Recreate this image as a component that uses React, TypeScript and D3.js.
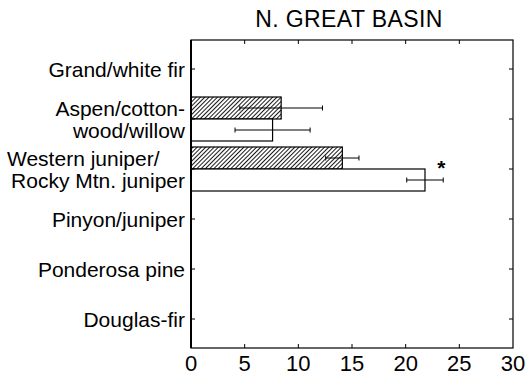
import React from "react";
import * as d3 from "d3";

const title = "N. GREAT BASIN";
const categories = [
  "Grand/white fir",
  "Aspen/cotton-\nwood/willow",
  "Western juniper/\nRocky Mtn. juniper",
  "Pinyon/juniper",
  "Ponderosa pine",
  "Douglas-fir",
];
// first line of this label is left-set in the reference
const leftSetFirstLine = [false, false, true, false, false, false];
const hatchedValues: (number | null)[] = [null, 8.4, 14.1, null, null, null];
const hatchedErrors: (number | null)[] = [null, 3.85, 1.55, null, null, null];
const openValues: (number | null)[] = [null, 7.6, 21.8, null, null, null];
const openErrors: (number | null)[] = [null, 3.5, 1.7, null, null, null];
const significant = [false, false, true, false, false, false];
const xTicks = [0, 5, 10, 15, 20, 25, 30];

const W = 527;
const H = 379;
const left = 191;
const right = 513;
const top = 40;
const bottom = 348;
const font = "Liberation Sans, Arial, Helvetica, sans-serif";

export default function App() {
  const x = d3.scaleLinear().domain([0, 30]).range([left, right]);
  const y = d3.scalePoint<string>().domain(categories).range([top, bottom]).padding(0.58);
  const barH = 22;
  const cap = 2.5;

  const errBar = (v: number, e: number, cy: number, key: string) => (
    <g key={key} stroke="#000" strokeWidth={1}>
      <line x1={x(v - e)} x2={x(v + e)} y1={cy} y2={cy} />
      <line x1={x(v - e)} x2={x(v - e)} y1={cy - cap} y2={cy + cap} />
      <line x1={x(v + e)} x2={x(v + e)} y1={cy - cap} y2={cy + cap} />
    </g>
  );

  return (
    <svg width={W} height={H} style={{ position: "absolute", left: 0, top: 0, background: "#fff" }}>
      <defs>
        <pattern id="hatch" patternUnits="userSpaceOnUse" width={3} height={3} patternTransform="rotate(45)">
          <rect width={3} height={3} fill="#fff" />
          <line x1={0.5} y1={0} x2={0.5} y2={3} stroke="#000" strokeWidth={0.9} />
        </pattern>
      </defs>
      <text x={349} y={27} textAnchor="middle" fontFamily={font} fontSize={23} letterSpacing={0.4}>
        {title}
      </text>
      {categories.map((c, i) => {
        const cy = y(c)!;
        const hv = hatchedValues[i];
        const ov = openValues[i];
        const he = hatchedErrors[i];
        const oe = openErrors[i];
        return (
          <g key={c}>
            {hv != null && (
              <rect x={x(0)} y={cy - barH} width={x(hv) - x(0)} height={barH} fill="url(#hatch)" stroke="#000" strokeWidth={1.2} />
            )}
            {ov != null && (
              <rect x={x(0)} y={cy} width={x(ov) - x(0)} height={barH} fill="#fff" stroke="#000" strokeWidth={1.2} />
            )}
            {hv != null && he != null && errBar(hv, he, cy - barH / 2, c + "he")}
            {ov != null && oe != null && errBar(ov, oe, cy + barH / 2, c + "oe")}
            {significant[i] && ov != null && oe != null && (
              <text x={x(ov + oe) - 2} y={cy + 6} textAnchor="middle" fontFamily={font} fontSize={21} fontWeight="bold">
                *
              </text>
            )}
          </g>
        );
      })}
      <rect x={left} y={top} width={right - left} height={bottom - top} fill="none" stroke="#000" strokeWidth={1.2} />
      <line x1={left} x2={left} y1={top} y2={bottom} stroke="#000" strokeWidth={2} />
      {xTicks.slice(1, -1).map((t) => (
        <g key={t} stroke="#000" strokeWidth={1}>
          <line x1={x(t)} x2={x(t)} y1={top} y2={top + 4} />
          <line x1={x(t)} x2={x(t)} y1={bottom} y2={bottom - 4} />
        </g>
      ))}
      {categories.map((c) => (
        <g key={c + "t"} stroke="#000" strokeWidth={1}>
          <line x1={left} x2={left + 4} y1={y(c)!} y2={y(c)!} />
          <line x1={right} x2={right - 4} y1={y(c)!} y2={y(c)!} />
        </g>
      ))}
      {xTicks.map((t) => (
        <text key={t} x={x(t)} y={371} textAnchor="middle" fontFamily={font} fontSize={22}>
          {t}
        </text>
      ))}
      {categories.map((c, i) => {
        const lines = c.split("\n");
        const cy = y(c)!;
        return lines.map((ln, j) => {
          const leftSet = leftSetFirstLine[i] && j === 0;
          return (
            <text
              key={c + "l" + j}
              x={leftSet ? 7 : 185}
              y={lines.length === 1 ? cy + 8 : cy - 3 + j * 22}
              textAnchor={leftSet ? "start" : "end"}
              fontFamily={font}
              fontSize={21}
            >
              {ln}
            </text>
          );
        });
      })}
    </svg>
  );
}
